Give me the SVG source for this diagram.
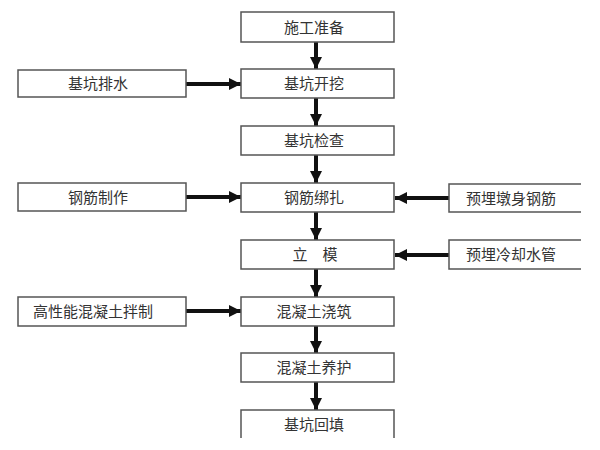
<svg xmlns="http://www.w3.org/2000/svg" width="600" height="450" viewBox="0 0 600 450">
<defs>
<style>
.b{fill:#fff;stroke:#555;stroke-width:1.5}
.o{fill:none;stroke:#555;stroke-width:1.5}
text{font-family:"Noto Sans CJK SC","Noto Sans",sans-serif;font-size:15px;fill:#333;text-anchor:middle}
.c line{stroke:#111;stroke-width:4}
</style>
<marker id="ah" viewBox="0 0 10 10" refX="10" refY="5" markerWidth="3" markerHeight="3" orient="auto" markerUnits="strokeWidth">
<path d="M0,0 L10,5 L0,10 z" fill="#111"/>
</marker>
</defs>
<g class="c" id="connectors">
<line x1="316" y1="42" x2="316" y2="69" marker-end="url(#ah)"/>
<line x1="316" y1="98" x2="316" y2="126" marker-end="url(#ah)"/>
<line x1="316" y1="155" x2="316" y2="183" marker-end="url(#ah)"/>
<line x1="316" y1="212" x2="316" y2="240" marker-end="url(#ah)"/>
<line x1="316" y1="269" x2="316" y2="297" marker-end="url(#ah)"/>
<line x1="316" y1="326" x2="316" y2="353" marker-end="url(#ah)"/>
<line x1="316" y1="382" x2="316" y2="410" marker-end="url(#ah)"/>
<line x1="183" y1="84" x2="241" y2="84" marker-end="url(#ah)"/>
<line x1="183" y1="197" x2="241" y2="197" marker-end="url(#ah)"/>
<line x1="183" y1="311" x2="241" y2="311" marker-end="url(#ah)"/>
<line x1="449" y1="198" x2="395" y2="198" marker-end="url(#ah)"/>
<line x1="449" y1="255" x2="395" y2="255" marker-end="url(#ah)"/>
</g>
<g id="n1"><rect class="b" x="241" y="12" width="153" height="30"/><text x="314" y="33">施工准备</text></g>
<g id="n2"><rect class="b" x="241" y="69" width="153" height="29"/><text x="314" y="89">基坑开挖</text></g>
<g id="n3"><rect class="b" x="241" y="126" width="153" height="29"/><text x="314" y="146">基坑检查</text></g>
<g id="n4"><rect class="b" x="241" y="183" width="153" height="29"/><text x="314" y="203">钢筋绑扎</text></g>
<g id="n5"><rect class="b" x="241" y="240" width="153" height="29"/><text x="315" y="260" xml:space="preserve">立　模</text></g>
<g id="n6"><rect class="b" x="241" y="297" width="153" height="29"/><text x="314" y="317">混凝土浇筑</text></g>
<g id="n7"><rect class="b" x="241" y="353" width="153" height="29"/><text x="314" y="373">混凝土养护</text></g>
<g id="n8"><path class="o" d="M241,438 V410 H394 V438"/><text x="314" y="430">基坑回填</text></g>
<g id="l1"><rect class="b" x="18" y="70" width="168" height="27"/><text x="98" y="89">基坑排水</text></g>
<g id="l2"><rect class="b" x="18" y="183" width="168" height="28"/><text x="98" y="203">钢筋制作</text></g>
<g id="l3"><rect class="b" x="18" y="297" width="168" height="29"/><text x="93" y="317">高性能混凝土拌制</text></g>
<g id="r1"><path class="o" d="M581,184 H449 V212 H581"/><text x="511" y="204">预埋墩身钢筋</text></g>
<g id="r2"><path class="o" d="M581,240 H449 V269 H581"/><text x="511" y="260">预埋冷却水管</text></g>
</svg>
